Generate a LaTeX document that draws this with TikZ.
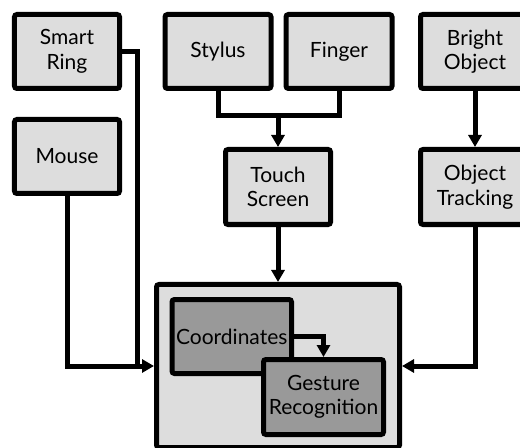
\documentclass[tikz,border=0pt]{standalone}
\usepackage{fontspec}
\setmainfont{Lato}
\usetikzlibrary{arrows.meta}
\definecolor{lightbox}{gray}{0.865}
\definecolor{darkbox}{gray}{0.6}
\tikzset{
  box/.style={draw=black, line width=5bp, fill=lightbox, rounded corners=2.5bp,
    inner sep=0pt, align=center, font=\fontsize{21bp}{24.5bp}\selectfont},
  innerbox/.style={box, fill=darkbox},
  conn/.style={line width=5bp, draw=black},
  arr/.style={conn, -{Triangle[length=12bp,width=13bp]}},
}
\begin{document}
\begin{tikzpicture}[x=1bp,y=-1bp]
\useasboundingbox (0,0) rectangle (520,448);
\clip (0,0) rectangle (520,448);
% top row
\node[box, minimum width=105bp, minimum height=74bp] (ring) at (67,51.5) {Smart\\Ring};
\node[box, minimum width=106bp, minimum height=74bp] (stylus) at (218,51.5) {Stylus};
\node[box, minimum width=106bp, minimum height=74bp] (finger) at (339,51.5) {Finger};
\node[box, minimum width=109bp, minimum height=74bp] (bright) at (475,51.5) {Bright\\Object};
% second row
\node[box, minimum width=105bp, minimum height=74bp] (mouse) at (67,156.5) {Mouse};
\node[box, minimum width=105bp, minimum height=75bp] (touch) at (278,187) {Touch\\Screen};
\node[box, minimum width=109bp, minimum height=75bp] (track) at (475,187) {Object\\Tracking};
% big container
\node[box, minimum width=243bp, minimum height=163bp] (big) at (278,366) {};
\node[innerbox, minimum width=119.5bp, minimum height=74bp] (coord) at (231.75,336.5) {Coordinates};
\node[innerbox, minimum width=120bp, minimum height=75bp] (gest) at (323.5,397) {Gesture\\Recognition};
% junction coordinates
\coordinate (j1) at (137,366);
\coordinate (jt) at (278,116);
% connectors
\draw[conn] (ring.east) -| (j1);
\draw[arr] (mouse.south) |- (big.west);
\draw[conn] (stylus.south) |- (jt) -| (finger.south);
\draw[arr] (jt) -- (touch.north);
\draw[arr] (touch.south) -- (big.north);
\draw[arr] (bright.south) -- (track.north);
\draw[arr] (track.south) |- (big.east);
\draw[arr] (coord.east) -| (gest.north);
\end{tikzpicture}
\end{document}
